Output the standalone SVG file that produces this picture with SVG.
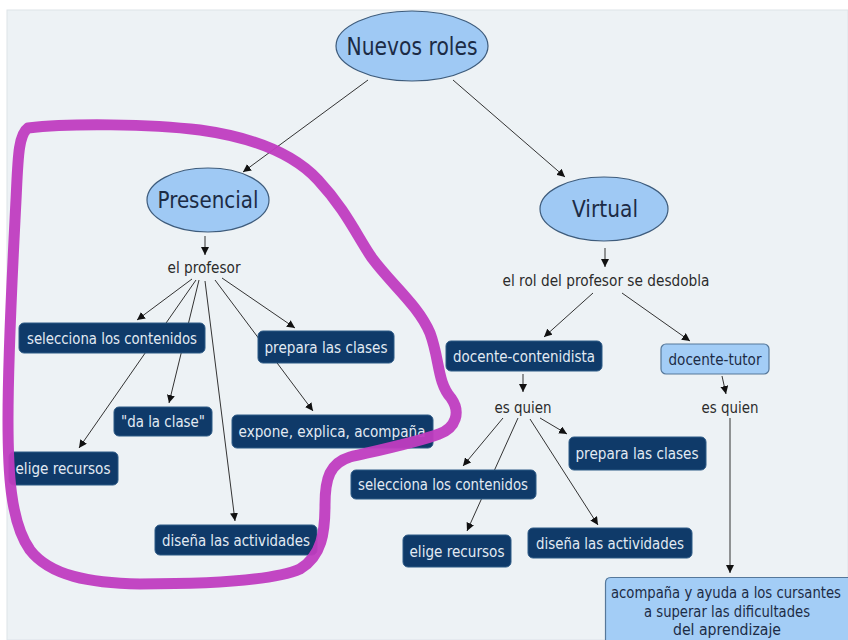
<svg xmlns="http://www.w3.org/2000/svg" width="848" height="640" viewBox="0 0 848 640">
<defs>
<marker id="ah" markerWidth="8" markerHeight="8" refX="8" refY="4" orient="auto" markerUnits="userSpaceOnUse">
<path d="M0,0 L8,4 L0,8 z" fill="#111"/>
</marker>
<style>
.c line{stroke:#333;stroke-width:1;marker-end:url(#ah)}
.dk rect{fill:#0f3a69;stroke:#2d5a86;stroke-width:1}
.lb rect{fill:#a3cdf6;stroke:#56789a;stroke-width:1.2}
.el ellipse{fill:#9fc9f4;stroke:#3e5c7c;stroke-width:1.2}
text{font-family:"DejaVu Sans","Liberation Sans",sans-serif;text-anchor:middle}
.dk text{fill:#e2eaf3;font-size:16.5px}
.lb text,.el text{fill:#1c2b45}
.lbl{fill:#2b2b2b;font-size:16.5px}
</style>
</defs>
<rect x="0" y="0" width="848" height="640" fill="#ffffff"/>
<rect x="7" y="10" width="841" height="630" fill="#edf2f5" stroke="#dde3e8" stroke-width="1"/>

<g id="connectors" class="c">
<line x1="368" y1="80" x2="243" y2="172"/>
<line x1="453" y1="80" x2="565" y2="177"/>
<line x1="205" y1="236" x2="205" y2="255"/>
<line x1="192" y1="279" x2="137" y2="320"/>
<line x1="196" y1="280" x2="79" y2="448"/>
<line x1="199" y1="280" x2="169" y2="403"/>
<line x1="205" y1="281" x2="235" y2="521"/>
<line x1="215" y1="280" x2="313" y2="411"/>
<line x1="222" y1="278" x2="295" y2="328"/>
<line x1="605" y1="248" x2="605" y2="267"/>
<line x1="593" y1="293" x2="544" y2="337"/>
<line x1="622" y1="293" x2="690" y2="341"/>
<line x1="523" y1="374" x2="523" y2="392"/>
<line x1="722" y1="376" x2="726" y2="394"/>
<line x1="730" y1="418" x2="730" y2="573"/>
<line x1="503" y1="418" x2="463" y2="466"/>
<line x1="518" y1="418" x2="467" y2="531"/>
<line x1="530" y1="419" x2="598" y2="525"/>
<line x1="540" y1="418" x2="567" y2="434"/>
</g>

<g id="nuevos-roles" class="el">
<ellipse cx="412" cy="46" rx="76" ry="35"/>
<text x="412" y="55" font-size="25" textLength="131" lengthAdjust="spacingAndGlyphs">Nuevos roles</text>
</g>
<g id="presencial" class="el">
<ellipse cx="208" cy="200" rx="61" ry="32"/>
<text x="208" y="208" font-size="23" textLength="101" lengthAdjust="spacingAndGlyphs">Presencial</text>
</g>
<g id="virtual" class="el">
<ellipse cx="604" cy="209" rx="64" ry="32"/>
<text x="605" y="217" font-size="23" textLength="66" lengthAdjust="spacingAndGlyphs">Virtual</text>
</g>

<g id="el-profesor"><text class="lbl" x="204" y="273" textLength="73" lengthAdjust="spacingAndGlyphs">el profesor</text></g>
<g id="rol-desdobla"><text class="lbl" x="606" y="286" textLength="207" lengthAdjust="spacingAndGlyphs">el rol del profesor se desdobla</text></g>
<g id="es-quien-1"><text class="lbl" x="523" y="413" textLength="57" lengthAdjust="spacingAndGlyphs">es quien</text></g>
<g id="es-quien-2"><text class="lbl" x="730" y="413" textLength="57" lengthAdjust="spacingAndGlyphs">es quien</text></g>

<g id="p-selecciona" class="dk"><rect x="19" y="323" width="186" height="30" rx="5"/><text x="112" y="344" textLength="170" lengthAdjust="spacingAndGlyphs">selecciona los contenidos</text></g>
<g id="p-prepara" class="dk"><rect x="258" y="331" width="136" height="32" rx="5"/><text x="326" y="353" textLength="123" lengthAdjust="spacingAndGlyphs">prepara las clases</text></g>
<g id="p-da-clase" class="dk"><rect x="114" y="407" width="98" height="29" rx="5"/><text x="163" y="427" textLength="84" lengthAdjust="spacingAndGlyphs">"da la clase"</text></g>
<g id="p-expone" class="dk"><rect x="232" y="415" width="201" height="33" rx="5"/><text x="332" y="437" textLength="187" lengthAdjust="spacingAndGlyphs">expone, explica, acompaña</text></g>
<g id="p-elige" class="dk"><rect x="9" y="452" width="109" height="33" rx="5"/><text x="63" y="474" textLength="95" lengthAdjust="spacingAndGlyphs">elige recursos</text></g>
<g id="p-disena" class="dk"><rect x="155" y="525" width="162" height="30" rx="5"/><text x="236" y="546" textLength="148" lengthAdjust="spacingAndGlyphs">diseña las actividades</text></g>

<g id="v-contenidista" class="dk"><rect x="446" y="341" width="156" height="30" rx="5"/><text x="524" y="362" textLength="142" lengthAdjust="spacingAndGlyphs">docente-contenidista</text></g>
<g id="v-tutor" class="lb"><rect x="661" y="344" width="108" height="30" rx="5"/><text x="715" y="365" font-size="16.5" textLength="93" lengthAdjust="spacingAndGlyphs">docente-tutor</text></g>
<g id="v-prepara" class="dk"><rect x="569" y="437" width="137" height="33" rx="5"/><text x="637" y="459" textLength="123" lengthAdjust="spacingAndGlyphs">prepara las clases</text></g>
<g id="v-selecciona" class="dk"><rect x="351" y="470" width="185" height="29" rx="5"/><text x="443" y="490" textLength="170" lengthAdjust="spacingAndGlyphs">selecciona los contenidos</text></g>
<g id="v-elige" class="dk"><rect x="403" y="535" width="108" height="32" rx="5"/><text x="457" y="557" textLength="95" lengthAdjust="spacingAndGlyphs">elige recursos</text></g>
<g id="v-disena" class="dk"><rect x="528" y="528" width="164" height="30" rx="5"/><text x="610" y="549" textLength="148" lengthAdjust="spacingAndGlyphs">diseña las actividades</text></g>
<g id="v-acompana">
<path d="M605,640 V583 Q605,577 611,577 H848 V640 Z" fill="#a3cdf6"/>
<path d="M605.5,640 V583 Q605.5,577.5 611,577.5 H848" fill="none" stroke="#56789a" stroke-width="1.2"/>
<text x="726" y="598" font-size="16" fill="#1c2b45" textLength="230" lengthAdjust="spacingAndGlyphs">acompaña y ayuda a los cursantes</text>
<text x="727" y="617" font-size="16" fill="#1c2b45" textLength="166" lengthAdjust="spacingAndGlyphs">a superar las dificultades</text>
<text x="727" y="635" font-size="16" fill="#1c2b45" textLength="108" lengthAdjust="spacingAndGlyphs">del aprendizaje</text>
</g>

<path id="magenta-loop" d="M 28,128 C 70,123 150,124 200,130 C 250,137 292,152 318,180 C 346,210 358,238 372,258 C 392,285 418,305 430,333 C 440,360 437,382 451,398 C 461,412 456,428 439,434 C 418,442 380,450 350,457 C 330,463 325,478 325,505 C 325,532 322,556 300,569 C 270,582 200,584 140,584 C 90,583 50,576 30,550 C 10,522 8,470 8,420 C 8,350 13,260 16,200 C 18,160 18,135 28,128 Z" fill="none" stroke="#c03cc0" stroke-width="11" stroke-linejoin="round" stroke-linecap="round" opacity="0.95"/>
</svg>
